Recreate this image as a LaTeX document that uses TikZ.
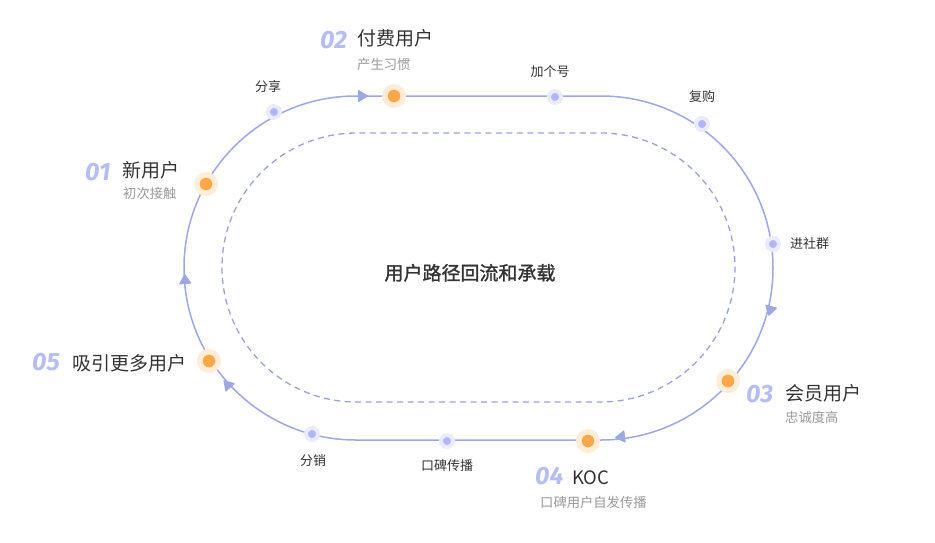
\documentclass[tikz,border=0pt]{standalone}
\usepackage{fontspec}
\setmainfont{Noto Sans CJK SC}
\newfontfamily\numfont{Fira Sans}
\newfontfamily\cjkmed[FakeBold=1.4]{Noto Sans CJK SC}
\usetikzlibrary{calc}
\definecolor{loopc}{HTML}{9DA8E3}
\definecolor{dashc}{HTML}{98A3DC}
\definecolor{orangec}{HTML}{FFA84A}
\definecolor{orangeh}{HTML}{FFEDD8}
\definecolor{bluec}{HTML}{B0B6F6}
\definecolor{blueh}{HTML}{EAECFC}
\definecolor{numc}{HTML}{B5BDF5}
\definecolor{titlec}{HTML}{333333}
\definecolor{subc}{HTML}{9A9A9A}
\tikzset{
  loopline/.style={draw=loopc, line width=1.5pt},
  dashline/.style={draw=dashc, line width=1.3pt, dash pattern=on 6pt off 4.5pt},
  bigdot/.style={circle, fill=orangec, draw=orangeh, line width=5.5pt, minimum size=18.5pt, inner sep=0pt, outer sep=0pt},
  smalldot/.style={circle, fill=bluec, draw=blueh, line width=4pt, minimum size=12pt, inner sep=0pt, outer sep=0pt},
  arrowhead/.style={fill=loopc, rounded corners=0.8pt},
  numtxt/.style={inner sep=0pt, anchor=base west, text=numc, font=\numfont\bfseries\itshape\fontsize{25}{27}\selectfont},
  titletxt/.style={inner sep=0pt, anchor=base west, text=titlec, font=\fontsize{19}{21}\selectfont},
  subtxt/.style={inner sep=0pt, anchor=base west, text=subc, font=\fontsize{13.3}{15}\selectfont},
  lbltxt/.style={inner sep=0pt, anchor=base, text=titlec, font=\fontsize{13}{15}\selectfont},
}
\begin{document}
\begin{tikzpicture}[x=1pt, y=-1pt]
\useasboundingbox[fill=white] (0,0) rectangle (935,542);
% loops
\coordinate (outerNW) at (184,96);
\coordinate (outerSE) at (773,440);
\coordinate (innerNW) at (222,133);
\coordinate (innerSE) at (735,402);
\draw[loopline, rounded corners=172pt] (outerNW) rectangle (outerSE);
\draw[dashline, rounded corners=134.5pt] (innerNW) rectangle (innerSE);
% arrowheads
\foreach \px/\py/\ang in {363/96/0, 770/311/-105, 620/437/-173, 227/384/132, 185/279/94}{
  \fill[arrowhead, shift={(\px,\py)}, rotate=\ang] (5.5,0) -- (-5,6.5) -- (-5,-6.5) -- cycle;
}
% dots
\node[bigdot] (d01) at (206,184) {};
\node[smalldot] (dshare) at (274,112) {};
\node[bigdot] (d02) at (394,96) {};
\node[smalldot] (dadd) at (555,97) {};
\node[smalldot] (drebuy) at (702,124) {};
\node[smalldot] (dgroup) at (773,244) {};
\node[bigdot] (d03) at (728,381) {};
\node[bigdot] (d04) at (588,441) {};
\node[smalldot] (dword) at (447,441) {};
\node[bigdot] (d05) at (209,361) {};
\node[smalldot] (ddist) at (312,434) {};
% 01
\node[numtxt] (n01) at (85,180) {01};
\node[titletxt] (t01) at (122,177) {新用户};
\node[subtxt] (s01) at (123,198) {初次接触};
% 02
\node[numtxt] (n02) at (320,48) {02};
\node[titletxt] (t02) at (357,45) {付费用户};
\node[subtxt] (s02) at (357,69) {产生习惯};
% 03
\node[numtxt] (n03) at (746,402) {03};
\node[titletxt] (t03) at (785,400) {会员用户};
\node[subtxt] (s03) at (785,422) {忠诚度高};
% 04
\node[numtxt] (n04) at (535,484) {04};
\node[titletxt, font=\fontsize{18.5}{20}\selectfont] (t04) at (572,484) {KOC};
\node[subtxt] (s04) at (540,507) {口碑用户自发传播};
% 05
\node[numtxt] (n05) at (32,370) {05};
\node[titletxt] (t05) at (72,370) {吸引更多用户};
% small labels
\node[lbltxt] (lshare) at (268,91) {分享};
\node[lbltxt] (ladd) at (550,76) {加个号};
\node[lbltxt] (lrebuy) at (702,101) {复购};
\node[lbltxt, anchor=base west] (lgroup) at (790,248) {进社群};
\node[lbltxt] (lword) at (447,470) {口碑传播};
\node[lbltxt] (ldist) at (313,465) {分销};
% center
\node[inner sep=0pt, anchor=base, text=titlec, font=\cjkmed\fontsize{19}{21}\selectfont] (center) at (470,280) {用户路径回流和承载};
\end{tikzpicture}
\end{document}
